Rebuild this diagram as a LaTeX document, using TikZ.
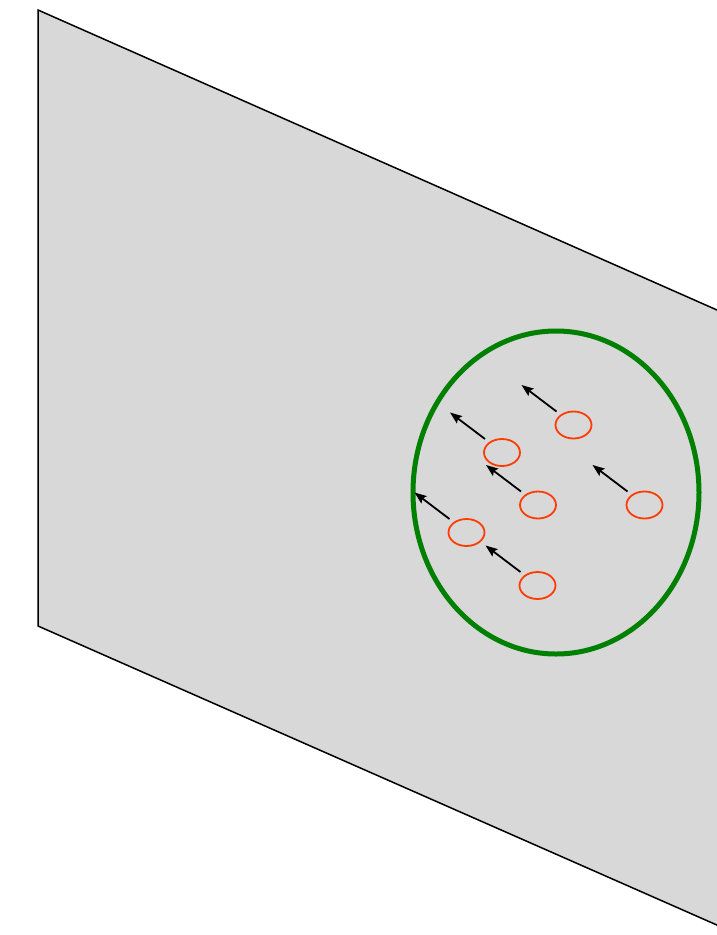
\documentclass[tikz,border=0pt]{standalone}
\usetikzlibrary{arrows.meta,shapes.geometric}
\definecolor{planegray}{RGB}{216,216,216}
\definecolor{ringgreen}{RGB}{0,128,0}
\definecolor{dotred}{RGB}{255,60,0}
\begin{document}
\begin{tikzpicture}[x=1pt,y=-1pt,
  plane/.style={fill=planegray,draw=black,line width=1.5pt},
  ring/.style={draw=ringgreen,line width=5pt,ellipse,minimum width=286pt,minimum height=323pt,inner sep=0pt},
  dot/.style={draw=dotred,line width=1.8pt,ellipse,minimum width=36pt,minimum height=27pt,inner sep=0pt},
  arr/.style={draw=black,line width=1.8pt,-{Stealth[length=12pt,width=9pt,inset=2pt]}}]
\useasboundingbox (0,0) rectangle (717,935);
\clip (0,0) rectangle (717,935);
\draw[plane] (38,10) -- (760,329) -- (760,944) -- (38,626) -- cycle;
\node[ring] (r) at (556,492.5) {};
\node[dot] (e1) at (573.5,425) {};
\node[dot] (e2) at (502,452.5) {};
\node[dot] (e3) at (538,505) {};
\node[dot] (e4) at (644.5,505) {};
\node[dot] (e5) at (466.5,532.5) {};
\node[dot] (e6) at (537.5,585.5) {};
\foreach \e in {e1,e2,e3,e4,e5,e6}{
  \draw[arr] (\e) ++(-17,-13.5) -- ++(-35,-26.5);
}
\end{tikzpicture}
\end{document}
